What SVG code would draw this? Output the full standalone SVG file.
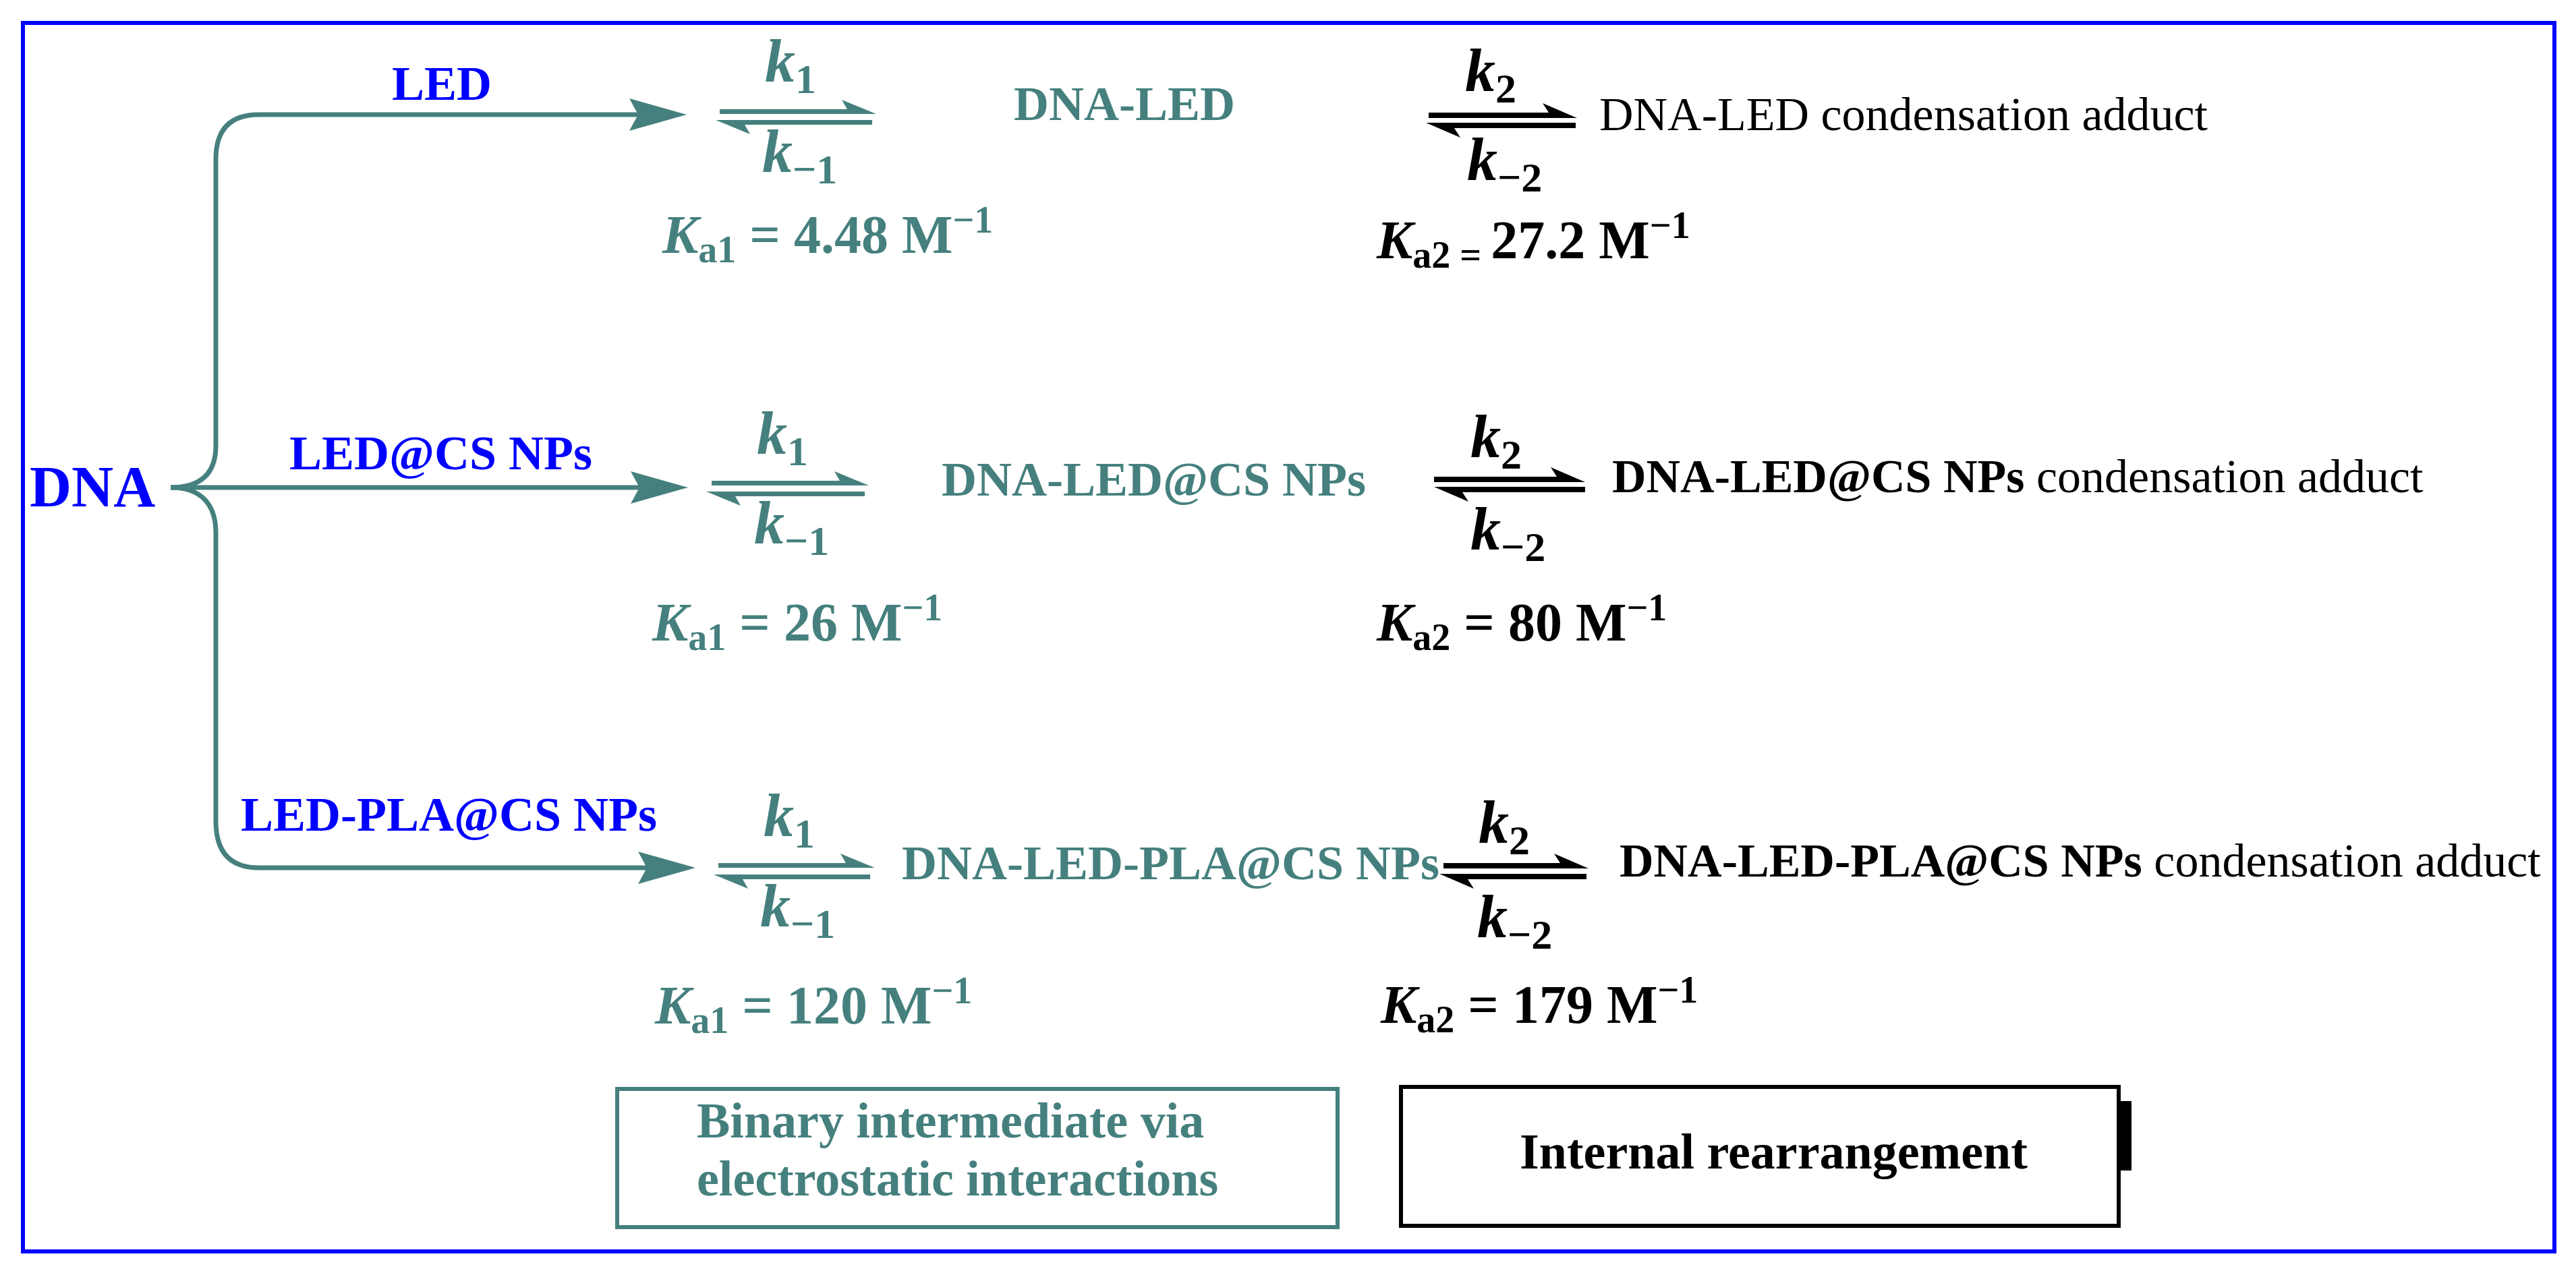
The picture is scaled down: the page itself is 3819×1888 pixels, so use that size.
<svg xmlns="http://www.w3.org/2000/svg" width="3819" height="1888" viewBox="0 0 3819 1888">
<style>
text{font-family:"Liberation Serif","Times New Roman",serif;font-weight:bold}
.t{fill:#45807e}.b{fill:#0000ff}.k{fill:#000}
.reg{font-weight:normal}
.lbl{font-size:72px}
.kk{font-size:90px;font-style:italic}
.ks{font-size:62px;font-style:normal}
.ka{font-size:80px}
.it{font-style:italic}
.sm{font-size:56px}
.tl{stroke:#45807e;stroke-width:7;fill:none}
.bl{stroke:#000;stroke-width:7;fill:none}
</style>
<rect x="34" y="34" width="3753" height="1822" fill="#fff" stroke="#0000ff" stroke-width="6"/>

<g id="connectors">
  <path class="tl" d="M253,723 C300,723 320,700 320,661 L320,236 Q320,170 384,170 L960,170"/>
  <path class="tl" d="M253,723 L965,723"/>
  <path class="tl" d="M253,723 C300,723 320,750 320,790 L320,1218 Q320,1287 384,1287 L975,1287"/>
  <polygon fill="#45807e" points="1018,170 933,146 946,170 933,194"/>
  <polygon fill="#45807e" points="1020,723 935,699 948,723 935,747"/>
  <polygon fill="#45807e" points="1031,1287 946,1263 959,1287 946,1311"/>
  <!-- teal harpoons -->
  <g fill="#45807e">
    <rect x="1067" y="162" width="190" height="7"/><polygon points="1299,169 1248,148 1256,162 1256,169"/>
    <rect x="1103" y="178" width="190" height="7"/><polygon points="1061,178 1112,199 1104,185 1104,178"/>
    <rect x="1055" y="713" width="190" height="7"/><polygon points="1288,720 1237,699 1245,713 1245,720"/>
    <rect x="1089" y="729" width="193" height="7"/><polygon points="1047,729 1098,750 1090,736 1090,729"/>
    <rect x="1065" y="1280" width="190" height="7"/><polygon points="1297,1287 1246,1266 1254,1280 1254,1287"/>
    <rect x="1100" y="1297" width="190" height="7"/><polygon points="1058,1297 1109,1318 1101,1304 1101,1297"/>
  </g>
  <g fill="#000">
    <rect x="2118" y="167" width="180" height="8"/><polygon points="2338,175 2287,153 2296,167 2296,175"/>
    <rect x="2156" y="182" width="180" height="8"/><polygon points="2114,182 2165,204 2156,190 2156,182"/>
    <rect x="2126" y="707" width="182" height="8"/><polygon points="2350,715 2299,693 2308,707 2308,715"/>
    <rect x="2168" y="722" width="182" height="8"/><polygon points="2126,722 2177,744 2168,730 2168,722"/>
    <rect x="2140" y="1280" width="173" height="8"/><polygon points="2355,1288 2304,1266 2313,1280 2313,1288"/>
    <rect x="2176" y="1296" width="176" height="8"/><polygon points="2134,1296 2185,1318 2176,1304 2176,1296"/>
  </g>
</g>

<g id="dna"><text class="b" x="44" y="751" font-size="86">DNA</text></g>
<g id="label-led"><text class="b lbl" x="581" y="148">LED</text></g>
<g id="label-ledcs"><text class="b lbl" x="429" y="696">LED@CS NPs</text></g>
<g id="label-ledpla"><text class="b lbl" x="357" y="1232">LED-PLA@CS NPs</text></g>

<g id="k-row1" class="t">
  <text class="kk" x="1134" y="121">k<tspan class="ks" dy="17">1</tspan></text>
  <text class="kk" x="1130" y="255">k<tspan class="ks" dy="17">−1</tspan></text>
</g>
<g id="k-row2" class="t">
  <text class="kk" x="1122" y="673">k<tspan class="ks" dy="17">1</tspan></text>
  <text class="kk" x="1118" y="806">k<tspan class="ks" dy="17">−1</tspan></text>
</g>
<g id="k-row3" class="t">
  <text class="kk" x="1132" y="1240">k<tspan class="ks" dy="17">1</tspan></text>
  <text class="kk" x="1127" y="1374">k<tspan class="ks" dy="17">−1</tspan></text>
</g>
<g id="k2-row1" class="k">
  <text class="kk" x="2172" y="135">k<tspan class="ks" dy="17">2</tspan></text>
  <text class="kk" x="2175" y="267">k<tspan class="ks" dy="17">−2</tspan></text>
</g>
<g id="k2-row2" class="k">
  <text class="kk" x="2180" y="678">k<tspan class="ks" dy="17">2</tspan></text>
  <text class="kk" x="2180" y="815">k<tspan class="ks" dy="17">−2</tspan></text>
</g>
<g id="k2-row3" class="k">
  <text class="kk" x="2192" y="1250">k<tspan class="ks" dy="17">2</tspan></text>
  <text class="kk" x="2190" y="1390">k<tspan class="ks" dy="17">−2</tspan></text>
</g>

<g id="int-row1"><text class="t lbl" x="1503" y="178">DNA-LED</text></g>
<g id="int-row2"><text class="t lbl" x="1396" y="735">DNA-LED@CS NPs</text></g>
<g id="int-row3"><text class="t lbl" x="1337" y="1304">DNA-LED-PLA@CS NPs</text></g>

<g id="prod-row1"><text class="k reg" x="2371" y="193" font-size="70">DNA-LED condensation adduct</text></g>
<g id="prod-row2"><text class="k" x="2390" y="730" font-size="70">DNA-LED@CS NPs <tspan class="reg"> condensation adduct</tspan></text></g>
<g id="prod-row3"><text class="k" x="2401" y="1300" font-size="70">DNA-LED-PLA@CS NPs <tspan class="reg"> condensation adduct</tspan></text></g>

<g id="ka1-row1" class="t"><text class="ka" x="982" y="375"><tspan class="it">K</tspan><tspan class="sm" dy="14">a1</tspan><tspan dy="-14"> = 4.48 M</tspan><tspan class="sm" dy="-30">−1</tspan></text></g>
<g id="ka1-row2" class="t"><text class="ka" x="967" y="950"><tspan class="it">K</tspan><tspan class="sm" dy="14">a1</tspan><tspan dy="-14"> = 26 M</tspan><tspan class="sm" dy="-30">−1</tspan></text></g>
<g id="ka1-row3" class="t"><text class="ka" x="971" y="1518"><tspan class="it">K</tspan><tspan class="sm" dy="14">a1</tspan><tspan dy="-14"> = 120 M</tspan><tspan class="sm" dy="-30">−1</tspan></text></g>
<g id="ka2-row1" class="k"><text class="ka" x="2041" y="383"><tspan class="it">K</tspan><tspan class="sm" dy="14">a2 = </tspan><tspan dy="-14">27.2 M</tspan><tspan class="sm" dy="-30">−1</tspan></text></g>
<g id="ka2-row2" class="k"><text class="ka" x="2041" y="950"><tspan class="it">K</tspan><tspan class="sm" dy="14">a2</tspan><tspan dy="-14"> = 80 M</tspan><tspan class="sm" dy="-30">−1</tspan></text></g>
<g id="ka2-row3" class="k"><text class="ka" x="2047" y="1517"><tspan class="it">K</tspan><tspan class="sm" dy="14">a2</tspan><tspan dy="-14"> = 179 M</tspan><tspan class="sm" dy="-30">−1</tspan></text></g>

<g id="legend-binary">
  <rect x="915" y="1615" width="1068" height="205" fill="none" stroke="#45807e" stroke-width="6"/>
  <text class="t" x="1033" y="1687" font-size="74">Binary intermediate via</text>
  <text class="t" x="1033" y="1773" font-size="74">electrostatic interactions</text>
</g>
<g id="legend-internal">
  <rect x="2077" y="1612" width="1064" height="206" fill="none" stroke="#000" stroke-width="6"/>
  <rect x="3144" y="1633" width="16" height="103" fill="#000"/>
  <text class="k" x="2253" y="1733" font-size="74">Internal rearrangement</text>
</g>
</svg>
